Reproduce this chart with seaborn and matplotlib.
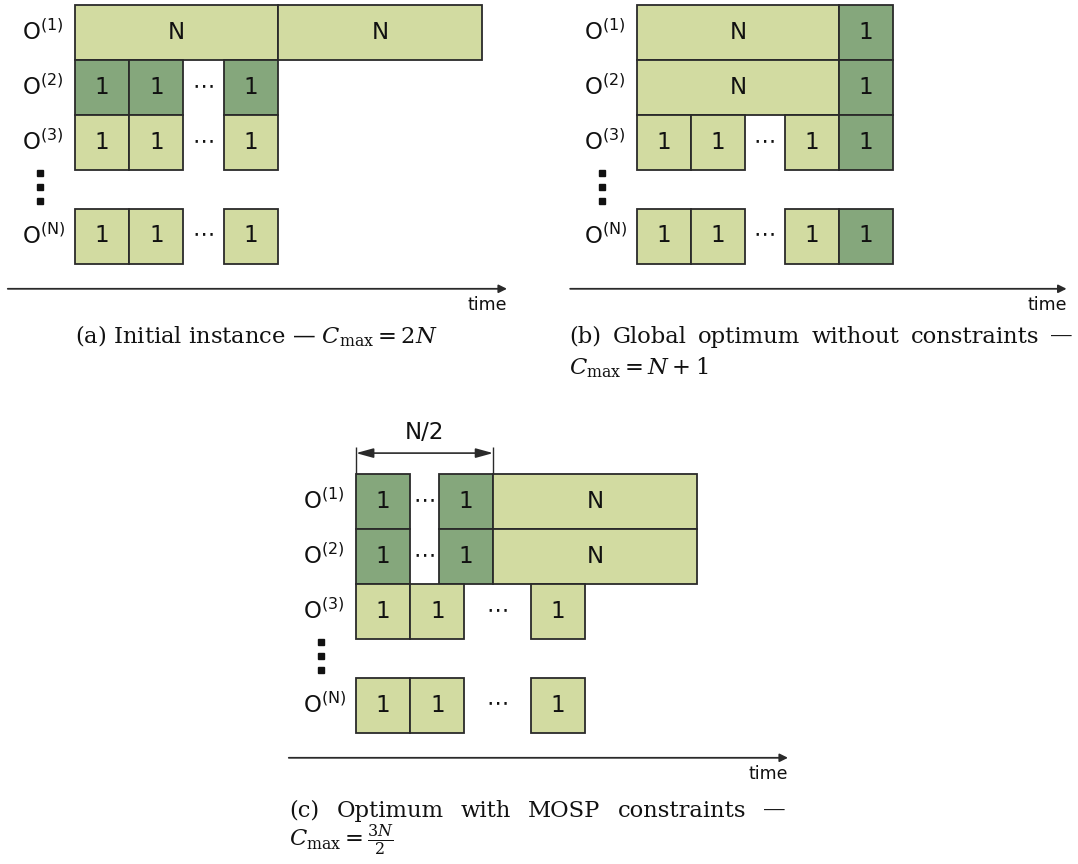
import numpy as np
import pandas as pd
import matplotlib
matplotlib.use("Agg")
import matplotlib.pyplot as plt
import seaborn as sns

sns.set_theme(style="white")
plt.rcParams["font.family"] = ["DejaVu Sans"]

# row labels and vertical positions (row units, 0 = top row)
row_labels = [r"$\mathrm{O}^{\mathrm{(1)}}$", r"$\mathrm{O}^{\mathrm{(2)}}$",
              r"$\mathrm{O}^{\mathrm{(3)}}$", r"$\mathrm{O}^{\mathrm{(N)}}$"]
row_pos = [0, 1, 2, 3.7]

# (a) initial instance
a_row = [0, 0, 1, 1, 1, 2, 2, 2, 3, 3, 3]
a_start = [0, 3.75, 0, 1, 2.75, 0, 1, 2.75, 0, 1, 2.75]
a_dur = [3.75, 3.75, 1, 1, 1, 1, 1, 1, 1, 1, 1]
a_text = ["N", "N", "1", "1", "1", "1", "1", "1", "1", "1", "1"]
a_dark = [0, 0, 1, 1, 1, 0, 0, 0, 0, 0, 0]
a_dots_row = [1, 2, 3]
a_dots_x = [2.38, 2.38, 2.38]

# (b) global optimum without constraints
b_row = [0, 0, 1, 1, 2, 2, 2, 2, 3, 3, 3, 3]
b_start = [0, 3.75, 0, 3.75, 0, 1, 2.75, 3.75, 0, 1, 2.75, 3.75]
b_dur = [3.75, 1, 3.75, 1, 1, 1, 1, 1, 1, 1, 1, 1]
b_text = ["N", "1", "N", "1", "1", "1", "1", "1", "1", "1", "1", "1"]
b_dark = [0, 1, 0, 1, 0, 0, 0, 1, 0, 0, 0, 1]
b_dots_row = [2, 3]
b_dots_x = [2.37, 2.37]

# (c) optimum with MOSP constraints
c_row = [0, 0, 0, 1, 1, 1, 2, 2, 2, 3, 3, 3]
c_start = [0, 1.53, 2.53, 0, 1.53, 2.53, 0, 1, 3.22, 0, 1, 3.22]
c_dur = [1, 1, 3.76, 1, 1, 3.76, 1, 1, 1, 1, 1, 1]
c_text = ["1", "1", "N", "1", "1", "N", "1", "1", "1", "1", "1", "1"]
c_dark = [1, 1, 0, 1, 1, 0, 0, 0, 0, 0, 0, 0]
c_dots_row = [0, 1, 2, 3]
c_dots_x = [1.27, 1.27, 2.62, 2.62]

vdots_y = [3.05, 3.31, 3.56]
t_min, t_max = -1.24, 7.97

light = "#d2dba1"
dark = "#85a77c"
edge = "#2a2a2a"

W, H = 1078, 864
fig = plt.figure(figsize=(W / 100, H / 100), dpi=100)


def panel_ax(left, top, w, h, x0, y0, u, rh=55.0):
    ax = fig.add_axes([left / W, 1 - (top + h) / H, w / W, h / H])
    ax.set_xlim((left - x0) / u, (left + w - x0) / u)
    ax.set_ylim((top + h - y0) / rh, (top - y0) / rh)
    ax.axis("off")
    return ax


def draw_panel(ax, rows, starts, durs, texts, darks, dots_row, dots_x):
    df = pd.DataFrame({"y": [row_pos[r] + 0.5 for r in rows], "left": starts,
                       "dur": durs, "txt": texts, "dark": darks})
    ax.barh(df["y"], df["dur"], left=df["left"], height=1.0,
            color=[dark if d else light for d in df["dark"]],
            edgecolor=edge, linewidth=1.3)
    for _, r in df.iterrows():
        ax.text(r["left"] + r["dur"] / 2, r["y"], r["txt"], ha="center",
                va="center", fontsize=16.5, color="#111")
    for r, x in zip(dots_row, dots_x):
        ax.text(x, row_pos[r] + 0.47, "⋯", ha="center", va="center",
                fontsize=16, color="#111")
    for p, lab in zip(row_pos, row_labels):
        ax.text(-0.98, p + 0.5, lab, ha="left", va="center", fontsize=16.5,
                math_fontfamily="dejavusans", color="#111")
    ax.plot([-0.65] * 3, vdots_y, ls="none", marker="s", ms=4.2, color="#111")
    ax.annotate("", xy=(t_max, 5.16), xytext=(t_min, 5.16),
                arrowprops=dict(arrowstyle="-|>", lw=1.3, color=edge,
                                mutation_scale=12, shrinkA=0, shrinkB=0))
    ax.text(t_max, 5.45, "time", ha="right", va="center", fontsize=12.5,
            color="#111")


ax_a = panel_ax(0, 0, 539, 330, 75, 5, 54.2)
draw_panel(ax_a, a_row, a_start, a_dur, a_text, a_dark, a_dots_row, a_dots_x)

ax_b = panel_ax(539, 0, 539, 330, 637, 5, 53.9)
draw_panel(ax_b, b_row, b_start, b_dur, b_text, b_dark, b_dots_row, b_dots_x)

ax_c = panel_ax(270, 410, 540, 380, 356, 474, 54.2)
draw_panel(ax_c, c_row, c_start, c_dur, c_text, c_dark, c_dots_row, c_dots_x)

# N/2 span marker
ax_c.vlines([0, 2.53], -0.49, 0, color=edge, lw=1.0)
ax_c.annotate("", xy=(2.53, -0.38), xytext=(0, -0.38),
              arrowprops=dict(arrowstyle="<|-|>,head_length=0.8,head_width=0.22",
                              lw=1.2, color=edge, mutation_scale=13,
                              shrinkA=0, shrinkB=0))
ax_c.text(1.265, -0.76, "N/2", ha="center", va="center", fontsize=16.5,
          color="#111")

# captions
cap = dict(family="DejaVu Serif", math_fontfamily="dejavuserif",
           fontsize=16.3, color="#111", va="baseline")
renderer = fig.canvas.get_renderer()


def justify(words, x_left, x_right, y):
    ts = [fig.text(0, 1 - y / H, w, **cap) for w in words]
    widths = [t.get_window_extent(renderer).width for t in ts]
    gap = (x_right - x_left - sum(widths)) / (len(words) - 1)
    x = x_left
    for t, wd in zip(ts, widths):
        t.set_x(x / W)
        x += wd + gap


fig.text(256 / W, 1 - 343 / H, r"(a) Initial instance — $C_{\max} = 2N$",
         ha="center", **cap)
justify(["(b)", "Global", "optimum", "without", "constraints", "—"], 569, 1073, 343)
fig.text(569 / W, 1 - 374 / H, r"$C_{\max} = N + 1$", ha="left", **cap)
justify(["(c)", "Optimum", "with", "MOSP", "constraints", "—"], 289, 786, 817)
fig.text(289 / W, 1 - 847 / H, r"$C_{\max} = \frac{3N}{2}$", ha="left", **cap)

fig.savefig("out.png", dpi=100, facecolor="white")
